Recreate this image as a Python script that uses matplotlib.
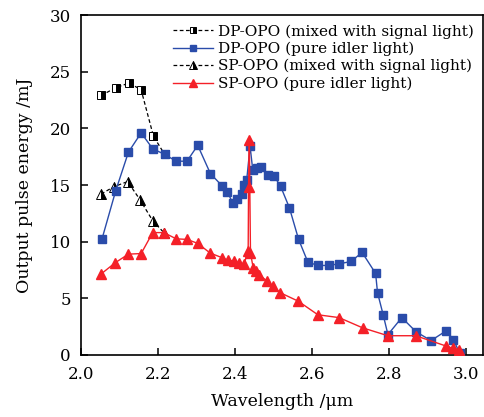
import matplotlib
matplotlib.use("Agg")
import matplotlib.pyplot as plt

plt.rcParams["font.family"] = ["DejaVu Serif"]
plt.rcParams["mathtext.fontset"] = "dejavuserif"

# DP-OPO, mixed with signal light
dp_mix_x = [2.053, 2.092, 2.126, 2.157, 2.189, 2.218]
dp_mix_y = [22.9, 23.6, 24.0, 23.4, 19.3, 17.7]

# DP-OPO, pure idler light
dp_idl_x = [2.055, 2.091, 2.124, 2.157, 2.187, 2.218, 2.248, 2.276, 2.304, 2.337,
            2.368, 2.381, 2.395, 2.407, 2.418, 2.424, 2.431, 2.440, 2.447, 2.457,
            2.468, 2.486, 2.502, 2.519, 2.542, 2.566, 2.590, 2.616, 2.644, 2.672,
            2.702, 2.731, 2.766, 2.771, 2.786, 2.798, 2.834, 2.871, 2.910, 2.950,
            2.968, 2.984]
dp_idl_y = [10.2, 14.5, 17.9, 19.6, 18.2, 17.7, 17.1, 17.1, 18.5, 16.0,
            14.9, 14.4, 13.4, 13.8, 14.2, 15.0, 15.4, 18.4, 16.3, 16.5,
            16.6, 15.9, 15.8, 14.9, 13.0, 10.2, 8.2, 7.9, 7.9, 8.05,
            8.25, 9.05, 7.2, 5.5, 3.5, 1.8, 3.3, 2.05, 1.27, 2.15,
            1.35, 0.2]

# SP-OPO, mixed with signal light
sp_mix_x = [2.053, 2.086, 2.122, 2.154, 2.187, 2.216]
sp_mix_y = [14.2, 14.85, 15.3, 13.7, 11.85, 10.8]

# SP-OPO, pure idler light
sp_idl_x = [2.053, 2.090, 2.124, 2.157, 2.187, 2.216, 2.248, 2.276, 2.304, 2.336,
            2.366, 2.383, 2.398, 2.412, 2.424, 2.435, 2.436, 2.438, 2.441, 2.448,
            2.455, 2.463, 2.483, 2.499, 2.518, 2.565, 2.616, 2.671, 2.732, 2.798,
            2.870, 2.950, 2.966, 2.983]
sp_idl_y = [7.15, 8.15, 8.9, 8.95, 10.8, 10.8, 10.25, 10.2, 9.85, 9.0,
            8.6, 8.35, 8.3, 8.1, 8.0, 9.2, 14.8, 19.0, 9.0, 7.7,
            7.4, 7.1, 6.55, 6.05, 5.5, 4.75, 3.55, 3.3, 2.4, 1.7,
            1.7, 0.78, 0.6, 0.45]

labels = ["DP-OPO (mixed with signal light)", "DP-OPO (pure idler light)",
          "SP-OPO (mixed with signal light)", "SP-OPO (pure idler light)"]

blue = "#2a4caa"
red = "#f42028"

fig = plt.figure(figsize=(4.85, 4.17), dpi=100)
ax = fig.add_axes([0.1664, 0.1487, 0.8295, 0.8153])

h1, = ax.plot(dp_mix_x, dp_mix_y, ls=(0, (3, 2)), color="black", lw=0.9,
              marker="s", ms=5.5, fillstyle="right", markerfacecolor="black",
              markerfacecoloralt="white", markeredgecolor="black", mew=0.7, zorder=2)
h3, = ax.plot(sp_mix_x, sp_mix_y, ls=(0, (3, 2)), color="black", lw=0.9,
              marker="^", ms=6.5, fillstyle="right", markerfacecolor="black",
              markerfacecoloralt="white", markeredgecolor="black", mew=0.7, zorder=2)
h2, = ax.plot(dp_idl_x, dp_idl_y, color=blue, lw=1.0, marker="s", ms=5.5,
              markeredgecolor=blue, zorder=3)
h4, = ax.plot(sp_idl_x, sp_idl_y, color=red, lw=1.0, marker="^", ms=7,
              markeredgecolor=red, zorder=4)

ax.set_xlim(2.0, 3.045)
ax.set_ylim(0, 30)
ax.set_xticks([2.0, 2.2, 2.4, 2.6, 2.8, 3.0])
ax.set_xticklabels(["2.0", "2.2", "2.4", "2.6", "2.8", "3.0"])
ax.set_yticks([0, 5, 10, 15, 20, 25, 30])
ax.tick_params(direction="in", length=5, width=1.1, labelsize=12)
ax.tick_params(axis="x", pad=8)
ax.tick_params(axis="y", pad=7)
for s in ax.spines.values():
    s.set_linewidth(1.2)

ax.set_xlabel("Wavelength /μm", fontsize=12.5, labelpad=7)
ax.set_ylabel("Output pulse energy /mJ", fontsize=12.5, labelpad=12)

ax.legend([h1, h2, h3, h4], labels, loc="upper right", frameon=False,
          fontsize=11, handlelength=2.6, labelspacing=0.2, handletextpad=0.35,
          markerscale=0.8, borderaxespad=0.2, bbox_to_anchor=(1.0, 1.0))

fig.savefig("out.png", dpi=100)
